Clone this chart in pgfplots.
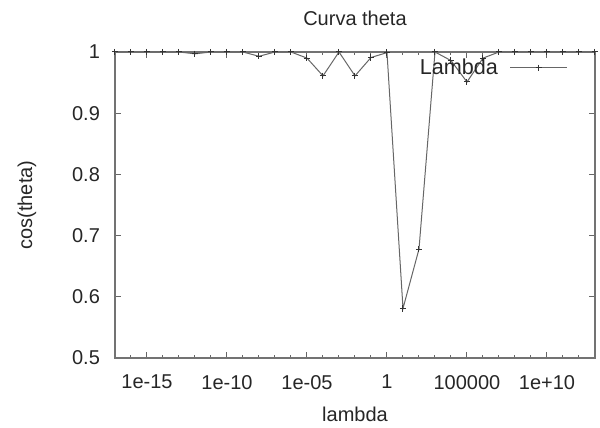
\documentclass[border=0pt]{standalone}
\usepackage{fontspec}
\setmainfont{Liberation Sans}
\usepackage{pgfplots}
\pgfplotsset{compat=1.18}
\begin{document}
\begin{tikzpicture}
\begin{axis}[
  scale only axis, width=240pt, height=153pt,
  xmode=log, log basis x=10,
  xmin=1e-17, xmax=1e13, ymin=0.5, ymax=1,
  clip=false,
  axis line style={draw=black!60, line width=0.5pt},
  xtick={1e-15,1e-10,1e-5,1,1e5,1e10},
  xticklabels={1e-15,1e-10,1e-05,1,100000,1e+10},
  minor xtick={1e-17,1e-16,1e-14,1e-13,1e-12,1e-11,1e-9,1e-8,1e-7,1e-6,1e-4,1e-3,1e-2,1e-1,1e1,1e2,1e3,1e4,1e6,1e7,1e8,1e9,1e11,1e12,1e13},
  ytick={0.5,0.6,0.7,0.8,0.9,1},
  yticklabels={0.5,0.6,0.7,0.8,0.9,1},
  tick align=inside,
  major tick length=3pt, minor tick length=1.5pt,
  tick style={black!60, line width=0.5pt},
  tick label style={font=\fontsize{10}{12}\selectfont, text=black!85},
  xticklabel style={yshift=-5pt},
  yticklabel style={xshift=-4pt},
  every axis title shift=0pt,
  title={Curva theta},
  title style={at={(axis description cs:0.5,1.111)}, anchor=center, font=\fontsize{10}{12}\selectfont, text=black!85},
  xlabel={lambda},
  xlabel style={at={(axis description cs:0.5,-0.183)}, anchor=center, font=\fontsize{10}{12}\selectfont, text=black!85},
  ylabel={cos(theta)},
  ylabel style={at={(axis description cs:-0.1833,0.5)}, anchor=center, font=\fontsize{10}{12}\selectfont, text=black!85},
  legend plot pos=right,
  legend cell align=right,
  legend style={draw=none, fill=none, at={(0.944,0.948)}, anchor=east, font=\fontsize{10.8}{13}\selectfont, text=black!85, inner sep=0pt, column sep=4pt},
  legend image code/.code={\draw[mark repeat=2,mark phase=2,#1] plot coordinates {(0cm,0cm) (0.5cm,0cm) (1cm,0cm)};},
]
\draw[black!55, line width=0.8pt] (rel axis cs:0,0) rectangle (rel axis cs:1,1);
\addplot[black!60, line width=0.5pt, mark=+, mark size=1.6pt, mark options={black!80}] coordinates {
(1e-17,1) (1e-16,1) (1e-15,1) (1e-14,1) (1e-13,1) (1e-12,0.997)
(1e-11,1) (1e-10,1) (1e-9,1) (1e-8,0.993) (1e-7,1) (1e-6,1)
(1e-5,0.990) (1e-4,0.961) (1e-3,1) (1e-2,0.961) (1e-1,0.991) (1,0.999)
(1e1,0.581) (1e2,0.678) (1e3,1) (1e4,0.986) (1e5,0.951) (1e6,0.990)
(1e7,1) (1e8,1) (1e9,1) (1e10,1) (1e11,1) (1e12,1) (1e13,1)
};
\addlegendentry{Lambda}
\end{axis}
\pgfresetboundingbox
\path[use as bounding box] ([shift={(-57.5pt,-35pt)}]current axis.south west) rectangle ([shift={(242.5pt,179pt)}]current axis.south west);
\end{tikzpicture}
\end{document}
